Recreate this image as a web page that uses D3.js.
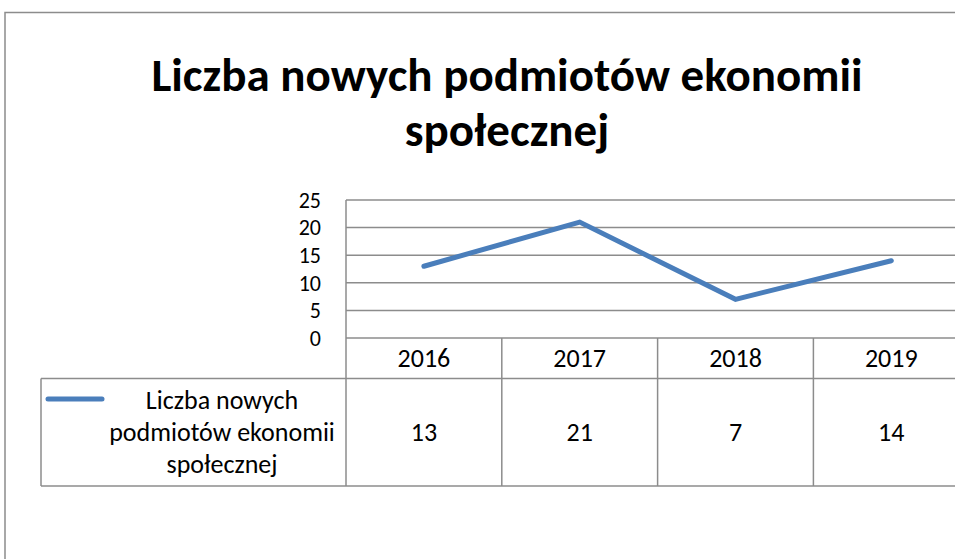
<!DOCTYPE html>
<html>
<head>
<meta charset="utf-8">
<script src="https://cdn.jsdelivr.net/npm/d3@7"></script>
<style>
  body { margin: 0; background: #fff; }
  svg { display: block; font-family: Carlito, Lato, "Open Sans", sans-serif; }
</style>
</head>
<body>
<svg id="chart" width="955" height="559"></svg>
<script>
// chart data
const titleLines = ["Liczba nowych podmiotów ekonomii", "społecznej"];
const years = ["2016", "2017", "2018", "2019"];
const values = [13, 21, 7, 14];
const yTicks = [0, 5, 10, 15, 20, 25];
const seriesLabel = ["Liczba nowych", "podmiotów ekonomii", "społecznej"];

const svg = d3.select("#chart");
const gridColor = "#8c8c8c";
const lineColor = "#4a7ebb";

// outer frame, cut off at the right and bottom like the source
svg.append("path")
    .attr("d", "M5,559 V12.5 H955")
    .attr("fill", "none")
    .attr("stroke", gridColor)
    .attr("stroke-width", 1.5);

// title
svg.append("text")
    .attr("x", 507)
    .attr("y", 91)
    .attr("text-anchor", "middle")
    .style("font-size", "47px")
    .style("font-weight", "bold")
    .selectAll("tspan")
    .data(titleLines)
    .join("tspan")
    .attr("x", 507)
    .attr("dy", (d, i) => i === 0 ? 0 : 55)
    .text(d => d);

/** plot area */
const plotLeft = 346, plotTop = 200, plotBottom = 338;
const x = d3.scaleBand().domain(years).range([plotLeft, plotLeft + 4 * 155.8]);
const y = d3.scaleLinear().domain([0, 25]).range([plotBottom, plotTop]);

// horizontal gridlines
svg.append("g")
    .selectAll("line")
    .data(yTicks)
    .join("line")
    .attr("x1", plotLeft)
    .attr("x2", 955)
    .attr("y1", d => y(d))
    .attr("y2", d => y(d))
    .attr("stroke", gridColor)
    .attr("stroke-width", 1.5);

// left edge of the plot
svg.append("line")
    .attr("x1", plotLeft).attr("x2", plotLeft)
    .attr("y1", plotTop).attr("y2", plotBottom)
    .attr("stroke", gridColor).attr("stroke-width", 1.5);

// y axis labels
svg.append("g")
    .selectAll("text")
    .data(yTicks)
    .join("text")
    .attr("x", 321)
    .attr("y", d => y(d))
    .attr("dy", "0.35em")
    .attr("text-anchor", "end")
    .style("font-size", "22px")
    .text(d => d);

// the series line
const line = d3.line()
    .x((d, i) => x(years[i]) + x.bandwidth() / 2)
    .y(d => y(d));

svg.append("path")
    .datum(values)
    .attr("d", line)
    .attr("fill", "none")
    .attr("stroke", lineColor)
    .attr("stroke-width", 5)
    .attr("stroke-linecap", "round")
    .attr("stroke-linejoin", "miter");

/** data table under the chart */
const headBottom = 378.5, tableBottom = 486, legendLeft = 41;

// horizontal rules of the table
svg.append("line")
    .attr("x1", legendLeft).attr("x2", 955)
    .attr("y1", headBottom).attr("y2", headBottom)
    .attr("stroke", gridColor).attr("stroke-width", 1.5);
svg.append("line")
    .attr("x1", legendLeft).attr("x2", 955)
    .attr("y1", tableBottom).attr("y2", tableBottom)
    .attr("stroke", gridColor).attr("stroke-width", 1.5);

// vertical rules
svg.append("line")
    .attr("x1", legendLeft).attr("x2", legendLeft)
    .attr("y1", headBottom).attr("y2", tableBottom)
    .attr("stroke", gridColor).attr("stroke-width", 1.5);
svg.append("g")
    .selectAll("line")
    .data(years)
    .join("line")
    .attr("x1", d => x(d))
    .attr("x2", d => x(d))
    .attr("y1", plotBottom)
    .attr("y2", tableBottom)
    .attr("stroke", gridColor)
    .attr("stroke-width", 1.5);

// year headers
svg.append("g")
    .selectAll("text")
    .data(years)
    .join("text")
    .attr("x", d => x(d) + x.bandwidth() / 2)
    .attr("y", 358)
    .attr("dy", "0.35em")
    .attr("text-anchor", "middle")
    .style("font-size", "26px")
    .text(d => d);

// values row
svg.append("g")
    .selectAll("text")
    .data(values)
    .join("text")
    .attr("x", (d, i) => x(years[i]) + x.bandwidth() / 2)
    .attr("y", 432)
    .attr("dy", "0.35em")
    .attr("text-anchor", "middle")
    .style("font-size", "26px")
    .text(d => d);

// legend cell
svg.append("line")
    .attr("x1", 48).attr("x2", 102)
    .attr("y1", 399).attr("y2", 399)
    .attr("stroke", lineColor)
    .attr("stroke-width", 5)
    .attr("stroke-linecap", "round");

svg.append("g")
    .selectAll("text")
    .data(seriesLabel)
    .join("text")
    .attr("x", 222)
    .attr("y", (d, i) => 400 + i * 32)
    .attr("dy", "0.35em")
    .attr("text-anchor", "middle")
    .style("font-size", "26px")
    .text(d => d);
</script>
</body>
</html>
